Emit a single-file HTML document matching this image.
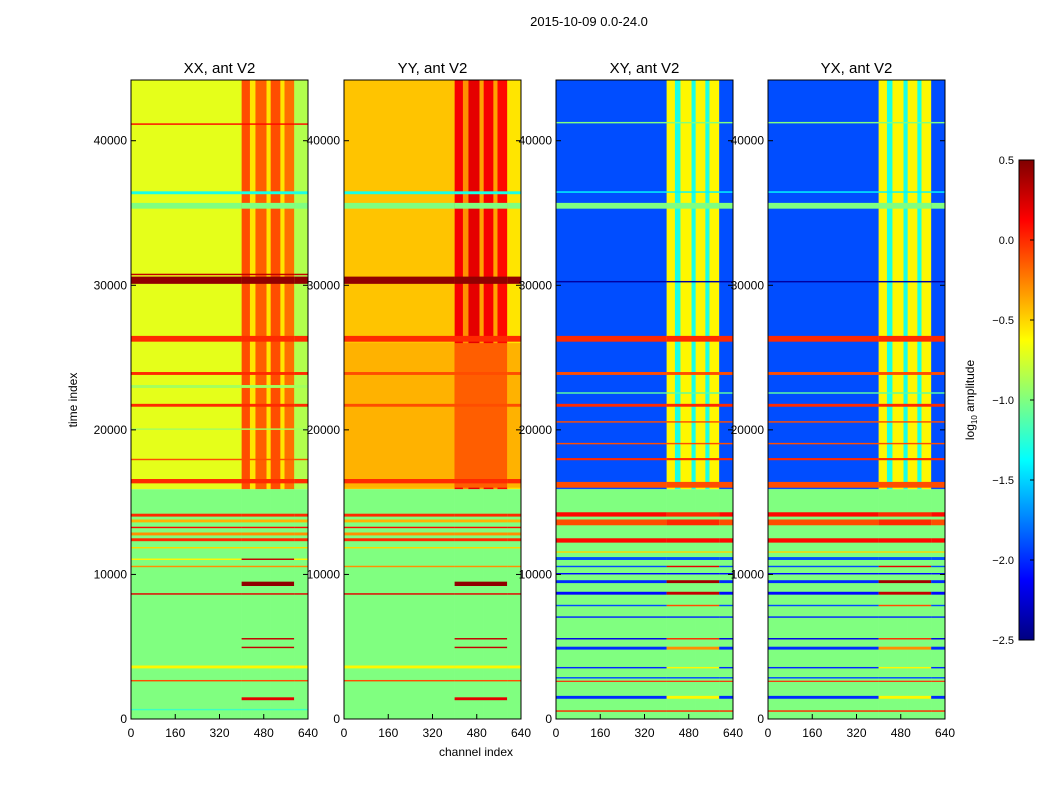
<!DOCTYPE html>
<html><head><meta charset="utf-8"><style>
body{margin:0;background:#fff;}
svg{display:block;font-family:"Liberation Sans",sans-serif;}
</style></head><body>
<svg id="fig" width="1050" height="800" viewBox="0 0 1050 800">
<rect width="1050" height="800" fill="#fff"/>
<text x="589" y="26" font-size="13" text-anchor="middle">2015-10-09 0.0-24.0</text>
<text x="476" y="756" font-size="12" text-anchor="middle">channel index</text>
<text transform="translate(77,400) rotate(-90)" font-size="12" text-anchor="middle">time index</text>
<text transform="translate(974,400) rotate(-90)" font-size="12" text-anchor="middle">log<tspan font-size="8" dy="3">10</tspan><tspan dy="-3"> amplitude</tspan></text>
<g id="panels"></g>
<g id="cbar"></g>
</svg>
<script>
const panelTitles = ["XX, ant V2","YY, ant V2","XY, ant V2","YX, ant V2"];
const xTicks = [0,160,320,480,640];
const yTicks = [0,10000,20000,30000,40000];
const cbarTicks = [0.5,0.0,-0.5,-1.0,-1.5,-2.0,-2.5];
const chanEdges = [0,400,430,450,490,505,540,555,590,640];
const splitTime = 15900;
const upperProfiles = [
 [-0.7,-0.1,-0.55,-0.15,-0.55,-0.1,-0.55,-0.2,-0.85],
 [-0.45,0.15,-0.3,0.2,-0.35,0.15,-0.35,0.1,-0.55],
 [-1.9,-0.6,-1.3,-0.6,-1.3,-0.6,-1.3,-0.6,-1.9],
 [-1.9,-0.6,-1.3,-0.6,-1.3,-0.6,-1.3,-0.6,-1.9]];
const lowerProfiles = [
 [-1.0,-1.0,-1.0,-1.0,-1.0,-1.0,-1.0,-1.0,-1.0],
 [-1.0,-1.0,-1.0,-1.0,-1.0,-1.0,-1.0,-1.0,-1.0],
 [-1.0,-1.0,-1.0,-1.0,-1.0,-1.0,-1.0,-1.0,-1.0],
 [-1.0,-1.0,-1.0,-1.0,-1.0,-1.0,-1.0,-1.0,-1.0]];
const stripesCo = [
 [26100,26500,0.0,0.0],[30100,30600,0.45,0.45],[30700,30800,0.3,0.3],[35300,35700,-1.0,-1.0],
 [36300,36500,-1.3,-1.3],[23800,24000,0.0,0.0],[21600,21800,0.0,0.0],[17900,18000,-0.1,-0.1],
 [16300,16600,0.0,0.0],[41100,41200,0.1,0.1],[22900,23100,-0.9,-0.9],[20000,20100,-0.9,-0.9],
 [14000,14200,0.0,0.0],[13600,13800,-0.4,-0.4],[13200,13300,0.1,0.1],[12700,12900,-0.3,-0.3],
 [12300,12500,0.0,0.0],[11800,11900,-0.5,-0.5],[11000,11100,-0.6,0.3],[10500,10600,-0.3,-0.3],
 [9200,9500,-1.0,0.45],[8600,8700,0.2,0.2],[5500,5600,-1.0,0.3],[4900,5000,-1.0,0.3],
 [3500,3700,-0.6,-0.6],[2600,2700,-0.1,-0.1],[1300,1500,-1.0,0.2],[600,700,-1.2,-1.2]];
const stripesYY = [
 [16000,26000,-0.4,-0.15],[26100,26500,0.0,0.0],[30100,30600,0.45,0.45],[35300,35700,-1.0,-1.0],
 [36300,36500,-1.3,-1.3],[23800,24000,-0.1,-0.1],[21600,21800,-0.1,-0.1],[16300,16600,0.0,0.0],
 [14000,14200,0.0,0.0],[13600,13800,-0.4,-0.4],[13200,13300,0.1,0.1],[12700,12900,-0.3,-0.3],
 [12300,12500,0.0,0.0],[11800,11900,-0.5,-0.5],[10500,10600,-0.3,-0.3],[9200,9500,-1.0,0.45],
 [8600,8700,0.2,0.2],[5500,5600,-1.0,0.3],[4900,5000,-1.0,0.3],[3500,3700,-0.6,-0.6],
 [2600,2700,-0.1,-0.1],[1300,1500,-1.0,0.2]];
const stripesCross = [
 [26100,26500,0.0,0.0],[30200,30300,-2.4,-2.4],[35300,35700,-1.0,-1.0],[36400,36500,-1.4,-1.4],
 [16000,16400,-0.1,-0.1],[17900,18050,0.0,0.0],[21600,21800,0.0,0.0],[23800,24000,-0.1,-0.1],
 [22500,22600,-1.1,-1.1],[20500,20600,-0.1,-0.1],[19000,19100,-0.1,-0.1],[41200,41300,-1.0,-1.0],
 [14000,14300,0.1,0.0],[13400,13800,-0.1,0.0],[12200,12500,0.1,0.1],[11500,11600,-0.5,-0.5],
 [11000,11200,-1.9,-1.9],[10500,10600,-1.9,0.2],[10000,10100,-2.1,-2.1],[9400,9600,-2.0,0.4],
 [8600,8800,-2.1,0.3],[7800,7900,-1.9,-0.1],[7000,7100,-2.0,-2.0],[5500,5600,-2.2,0.0],
 [4800,5000,-2.0,-0.3],[3500,3600,-2.0,-0.6],[2800,2900,-1.9,-1.9],[1400,1600,-2.0,-0.6],
 [2600,2650,0.0,0.0],[500,600,0.0,0.0]];
const panelStripes = [stripesCo, stripesYY, stripesCross, stripesCross];
const panelX = [131,344,556,768];
const PW = 177, PTOP = 80, PBOT = 719, TMAX = 44200, CMIN = -2.5, CMAX = 0.5;

function jet(v){
  let t=(v-CMIN)/(CMAX-CMIN); t=Math.max(0,Math.min(1,t));
  const f=x=>Math.max(0,Math.min(1,x));
  const r=f(1.5-Math.abs(4*t-3)), g=f(1.5-Math.abs(4*t-2)), b=f(1.5-Math.abs(4*t-1));
  return `rgb(${Math.round(r*255)},${Math.round(g*255)},${Math.round(b*255)})`;
}
const yScale = t => PBOT - t*(PBOT-PTOP)/TMAX;
const NS="http://www.w3.org/2000/svg";
function mk(tag, attrs, parent){const e=document.createElementNS(NS,tag);for(const k in attrs)e.setAttribute(k,attrs[k]);parent.appendChild(e);return e;}
const root=document.getElementById('panels');
panelTitles.forEach((title,p)=>{
  const x0=panelX[p];
  const xScale = c => x0 + c*PW/640;
  const g=mk('g',{},root);
  
  
  const regions=[[0,splitTime,lowerProfiles[p]],[splitTime,TMAX,upperProfiles[p]]];
  regions.forEach(([t0,t1,prof])=>{
    for(let i=0;i<chanEdges.length-1;i++){
      const r=mk('rect',{x:xScale(chanEdges[i]),y:yScale(t1),width:xScale(chanEdges[i+1])-xScale(chanEdges[i])+0.3,height:yScale(t0)-yScale(t1),fill:jet(prof[i])},g);
      
      
    }
  });
  panelStripes[p].forEach(([t0,t1,v,hv])=>{
    const h=Math.max(1.2,yScale(t0)-yScale(t1));
    const a=mk('rect',{x:xScale(0),y:yScale(t1),width:xScale(400)-xScale(0),height:h,fill:jet(v)},g);
    
    
    const b=mk('rect',{x:xScale(400),y:yScale(t1),width:xScale(590)-xScale(400),height:h,fill:jet(hv)},g);
    
    
    const c=mk('rect',{x:xScale(590),y:yScale(t1),width:xScale(640)-xScale(590),height:h,fill:jet(v)},g);
    
    
  });
  const fr=mk('rect',{x:x0,y:PTOP,width:PW,height:PBOT-PTOP,fill:'none',stroke:'#000','stroke-width':1},g);
  
  
  const tt=mk('text',{x:x0+PW/2,y:73,'font-size':15,'text-anchor':'middle'},g);
  tt.textContent=title;
  
  
  xTicks.forEach(c=>{
    mk('line',{x1:xScale(c),x2:xScale(c),y1:PBOT,y2:PBOT-5,stroke:'#000'},g);
    const t=mk('text',{x:xScale(c),y:PBOT+18,'font-size':12,'text-anchor':'middle'},g);
    t.textContent=c;
    
    
  });
  yTicks.forEach(v=>{
    mk('line',{x1:x0,x2:x0+5,y1:yScale(v),y2:yScale(v),stroke:'#000'},g);
    mk('line',{x1:x0+PW,x2:x0+PW-5,y1:yScale(v),y2:yScale(v),stroke:'#000'},g);
    const t=mk('text',{x:x0-4,y:yScale(v)+4,'font-size':12,'text-anchor':'end'},g);
    t.textContent=v;
    
    
  });
});
const cb=document.getElementById('cbar');
const CBX=1019, CBW=15, CBT=160, CBB=640;
const cbY = v => CBB - (v-CMIN)*(CBB-CBT)/(CMAX-CMIN);
const defs=mk('defs',{},cb);
const grad=mk('linearGradient',{id:'jetg',x1:0,y1:1,x2:0,y2:0},defs);
for(let i=0;i<=16;i++){const v=CMIN+(CMAX-CMIN)*i/16;mk('stop',{offset:i/16,'stop-color':jet(v)},grad);}
const cr=mk('rect',{x:CBX,y:CBT,width:CBW,height:CBB-CBT,fill:'url(#jetg)',stroke:'#000'},cb);


cbarTicks.forEach(v=>{
  mk('line',{x1:CBX+CBW-4,x2:CBX+CBW,y1:cbY(v),y2:cbY(v),stroke:'#000'},cb);
  const t=mk('text',{x:CBX-5,y:cbY(v)+4,'font-size':11,'text-anchor':'end'},cb);
  t.textContent=v.toFixed(1).replace('-','\u2212');
  
  
});
</script>
</body></html>
